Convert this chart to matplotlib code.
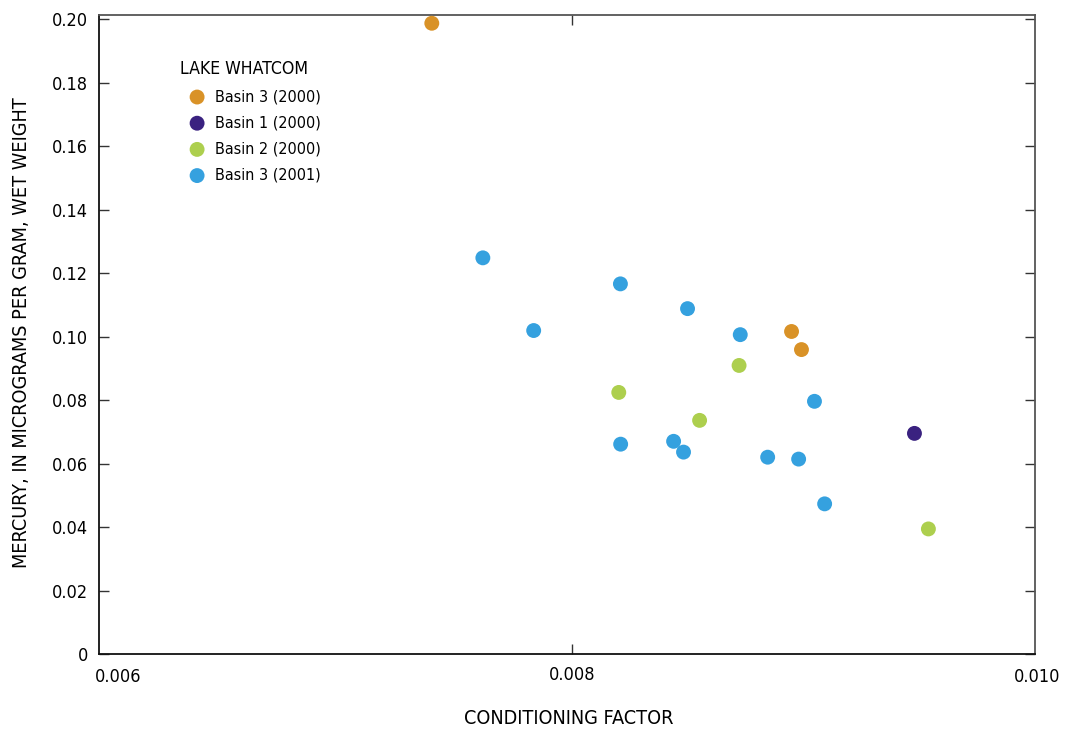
import matplotlib
matplotlib.use("Agg")
import matplotlib.pyplot as plt

plt.rcParams['font.family'] = ['DejaVu Sans']
plt.rcParams['font.stretch'] = 'condensed'

# conditioning factor (x) and mercury, ug/g wet weight (y)
basin3_2000_x = [0.007408, 0.008930, 0.008972]
basin3_2000_y = [0.1987, 0.1016, 0.0959]

basin1_2000_x = [0.009450]
basin1_2000_y = [0.0695]

basin2_2000_x = [0.008199, 0.008708, 0.008541, 0.009509]
basin2_2000_y = [0.0824, 0.0909, 0.0736, 0.0394]

basin3_2001_x = [0.007624, 0.007839, 0.008206, 0.008490, 0.008713, 0.009027,
                 0.008207, 0.008431, 0.008473, 0.008829, 0.008960, 0.009070]
basin3_2001_y = [0.1248, 0.1019, 0.1166, 0.1088, 0.1006, 0.0796,
                 0.0661, 0.0670, 0.0636, 0.0620, 0.0614, 0.0473]

yticks = [0, 0.02, 0.04, 0.06, 0.08, 0.10, 0.12, 0.14, 0.16, 0.18, 0.20]
ytick_labels = ['0', '0.02', '0.04', '0.06', '0.08', '0.10', '0.12', '0.14',
                '0.16', '0.18', '0.20']

series = [
    (basin3_2000_x, basin3_2000_y, '#d99227', 'Basin 3 (2000)'),
    (basin1_2000_x, basin1_2000_y, '#3a2280', 'Basin 1 (2000)'),
    (basin2_2000_x, basin2_2000_y, '#adcf4e', 'Basin 2 (2000)'),
    (basin3_2001_x, basin3_2001_y, '#35a1df', 'Basin 3 (2001)'),
]

fig = plt.figure(figsize=(10.69, 7.30), dpi=100)
ax = fig.add_axes([99 / 1069, 76 / 730, 936 / 1069, 639 / 730])

for xs, ys, color, label in series:
    ax.scatter(xs, ys, s=115, color=color, edgecolors='none', label=label,
               zorder=3)

ax.set_xlim(0.006, 0.00996)
ax.set_ylim(0, 0.2013)

ax.set_yticks(yticks)
ax.set_yticklabels(ytick_labels)
ax.set_xticks([0.008])
ax.set_xticklabels(['0.008'])
ax.text(-0.004, -0.022, '0.006', transform=ax.transAxes, ha='left', va='top',
        fontsize=13)
ax.text(1.002, -0.022, '0.010', transform=ax.transAxes, ha='center', va='top',
        fontsize=13)

ax.tick_params(axis='both', direction='in', length=7.3, width=1.0,
               labelsize=13, top=True, right=True, color='#333333')
ax.tick_params(axis='x', pad=9)
ax.tick_params(axis='y', pad=8)

for side in ['left', 'bottom']:
    ax.spines[side].set_linewidth(1.3)
    ax.spines[side].set_color('#111111')
for side in ['top', 'right']:
    ax.spines[side].set_linewidth(1.3)
    ax.spines[side].set_color('#555555')

ax.set_xlabel('CONDITIONING FACTOR', fontsize=14.2)
ax.xaxis.set_label_coords(0.502, -0.086)
ax.set_ylabel('MERCURY, IN MICROGRAMS PER GRAM, WET WEIGHT', fontsize=14.2)
ax.yaxis.set_label_coords(-0.0726, 0.503)

leg = ax.legend(loc='upper left', bbox_to_anchor=(0.0775, 0.942),
                title='LAKE WHATCOM', frameon=False, fontsize=11.5,
                title_fontsize=12.7, handletextpad=0.0, labelspacing=0.7,
                borderpad=0, handlelength=2.2, alignment='left')

fig.savefig('out.png', dpi=100)
